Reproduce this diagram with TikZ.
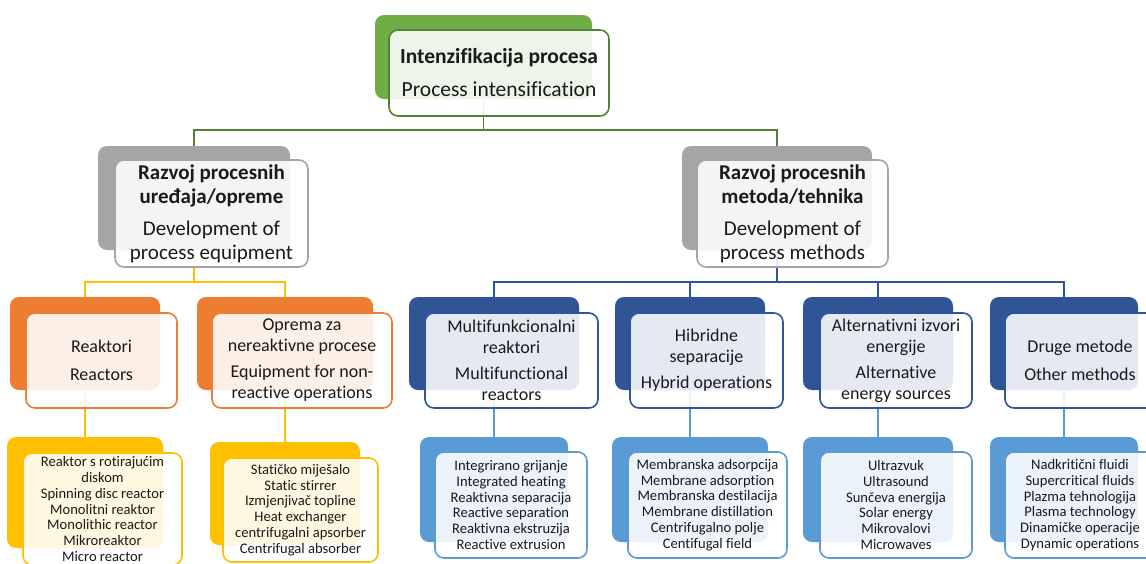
\documentclass[tikz,border=0pt]{standalone}
\usepackage{fontspec}
\setmainfont[Ligatures=NoCommon]{Carlito}
\usetikzlibrary{backgrounds}
\definecolor{cGreen}{HTML}{70AD47}
\definecolor{cGreenD}{HTML}{548235}
\definecolor{cGray}{HTML}{A5A5A5}
\definecolor{cOrange}{HTML}{ED7D31}
\definecolor{cYellow}{HTML}{FFC000}
\definecolor{cBlueD}{HTML}{2F5597}
\definecolor{cBlueL}{HTML}{5B9BD5}
\definecolor{txt}{HTML}{1A1A1A}
\begin{document}
\begin{tikzpicture}[x=1pt,y=-1pt,
  back/.style={rounded corners=9pt, fill=#1, inner sep=0pt},
  front/.style={rounded corners=9pt, draw=#1, line width=1.6pt, fill=white, fill opacity=0.88, text opacity=1, inner sep=0pt, align=center, text=txt},
  conn/.style={draw=#1, line width=1.5pt},
  ft/.style={font=\fontsize{21.5}{24}\selectfont},
  fa/.style={font=\fontsize{21}{24}\selectfont},
  fb/.style={font=\fontsize{18}{21}\selectfont},
  fc/.style={font=\fontsize{14.6}{15.7}\selectfont},
]
\useasboundingbox (0,0) rectangle (1146,563);
% level 1
\node[back=cGreen, minimum width=217pt, minimum height=84pt] (b0) at (483.5,57) {};
% level 2
\node[back=cGray, minimum width=192pt, minimum height=104pt] (bL) at (194,198) {};
\node[back=cGray, minimum width=190pt, minimum height=104pt] (bR) at (777,198) {};
% level 3
\node[back=cOrange, minimum width=150pt, minimum height=93pt] (b3a) at (85,343.5) {};
\node[back=cOrange, minimum width=176pt, minimum height=93pt] (b3b) at (285,343.5) {};
\node[back=cBlueD, minimum width=170pt, minimum height=93pt] (b3c) at (494,343.5) {};
\node[back=cBlueD, minimum width=150pt, minimum height=93pt] (b3d) at (690,343.5) {};
\node[back=cBlueD, minimum width=150pt, minimum height=93pt] (b3e) at (878,343.5) {};
\node[back=cBlueD, minimum width=148pt, minimum height=93pt] (b3f) at (1064,343.5) {};
% level 4
\node[back=cYellow, minimum width=156pt, minimum height=111pt] (b4a) at (85,492.5) {};
\node[back=cYellow, minimum width=150pt, minimum height=103pt] (b4b) at (285,493.5) {};
\node[back=cBlueL, minimum width=148pt, minimum height=105pt] (b4c) at (494,489.5) {};
\node[back=cBlueL, minimum width=156pt, minimum height=105pt] (b4d) at (690,489.5) {};
\node[back=cBlueL, minimum width=150pt, minimum height=105pt] (b4e) at (878,489.5) {};
\node[back=cBlueL, minimum width=148pt, minimum height=105pt] (b4f) at (1064,489.5) {};

% connectors
\begin{pgfonlayer}{background}
\draw[conn=cGreenD] (b0.south) -- ++(0,31) -| (bL.north);
\draw[conn=cGreenD] (b0.south) -- ++(0,31) -| (bR.north);
\foreach \t in {b3a,b3b} \draw[conn=cYellow] (bL.south) -- ++(0,32) -| (\t.north);
\foreach \t in {b3c,b3d,b3e,b3f} \draw[conn=cBlueD] (bR.south) -- ++(0,32) -| (\t.north);
\draw[conn=cYellow] (b3a.south) -- (b4a.north);
\draw[conn=cYellow] (b3b.south) -- (b4b.north);
\draw[conn=cBlueL] (b3c.south) -- (b4c.north);
\draw[conn=cBlueL] (b3d.south) -- (b4d.north);
\draw[conn=cBlueL] (b3e.south) -- (b4e.north);
\draw[conn=cBlueL] (b3f.south) -- (b4f.north);
\end{pgfonlayer}

% front boxes
\node[front=cGreenD, ft, minimum width=220pt, minimum height=86pt] (f0) at (499,73)
  {\textbf{Intenzifikacija procesa}\\[9pt]Process intensification};
\node[front=cGray, fa, minimum width=193pt, minimum height=107pt] (fL) at (211.5,213.5)
  {\textbf{Razvoj procesnih}\\\textbf{uređaja/opreme}\\[8pt]Development of\\process equipment};
\node[front=cGray, fa, minimum width=191pt, minimum height=107pt] (fR) at (792.5,213.5)
  {\textbf{Razvoj procesnih}\\\textbf{metoda/tehnika}\\[8pt]Development of\\process methods};

\node[front=cOrange, fb, minimum width=151pt, minimum height=95pt] (f3a) at (101.5,360.5)
  {Reaktori\\[7pt]Reactors};
\node[front=cOrange, fb, minimum width=180pt, minimum height=95pt] (f3b) at (302,360.5)
  {Oprema za\\nereaktivne procese\\[5pt]Equipment for non-\\reactive operations};
\node[front=cBlueD, fb, minimum width=173pt, minimum height=95pt] (f3c) at (511.5,360.5)
  {Multifunkcionalni\\reaktori\\[5pt]Multifunctional\\reactors};
\node[front=cBlueD, fb, minimum width=153pt, minimum height=95pt] (f3d) at (706.5,360.5)
  {Hibridne\\separacije\\[5pt]Hybrid operations};
\node[front=cBlueD, fb, minimum width=152pt, minimum height=95pt] (f3e) at (896,360.5)
  {Alternativni izvori\\energije\\[5pt]Alternative\\energy sources};
\node[front=cBlueD, fb, minimum width=150pt, minimum height=95pt] (f3f) at (1080,360.5)
  {Druge metode\\[7pt]Other methods};

\node[front=cYellow, fc, minimum width=159pt, minimum height=112pt] (f4a) at (102.5,509)
  {Reaktor s rotirajućim\\diskom\\Spinning disc reactor\\Monolitni reaktor\\Monolithic reactor\\Mikroreaktor\\Micro reactor};
\node[front=cYellow, fc, minimum width=155pt, minimum height=104pt] (f4b) at (300.5,510)
  {Statičko miješalo\\Static stirrer\\Izmjenjivač topline\\Heat exchanger\\centrifugalni apsorber\\Centrifugal absorber};
\node[front=cBlueL, fc, minimum width=152pt, minimum height=106pt] (f4c) at (511,505)
  {Integrirano grijanje\\Integrated heating\\Reaktivna separacija\\Reactive separation\\Reaktivna ekstruzija\\Reactive extrusion};
\node[front=cBlueL, fc, minimum width=159pt, minimum height=106pt] (f4d) at (707.5,505)
  {Membranska adsorpcija\\Membrane adsorption\\Membranska destilacija\\Membrane distillation\\Centrifugalno polje\\Centifugal field};
\node[front=cBlueL, fc, minimum width=152pt, minimum height=106pt] (f4e) at (896,505)
  {Ultrazvuk\\Ultrasound\\Sunčeva energija\\Solar energy\\Mikrovalovi\\Microwaves};
\node[front=cBlueL, fc, minimum width=150pt, minimum height=106pt] (f4f) at (1080,505)
  {Nadkritični fluidi\\Supercritical fluids\\Plazma tehnologija\\Plasma technology\\Dinamičke operacije\\Dynamic operations};
\end{tikzpicture}
\end{document}
